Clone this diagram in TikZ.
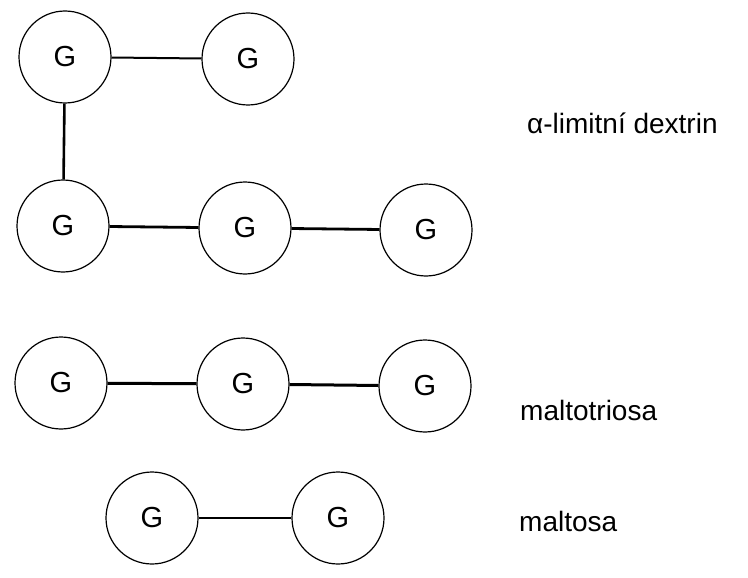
\documentclass[tikz,border=0pt]{standalone}
\usepackage{fontspec}
\setmainfont{Liberation Sans}
\begin{document}
\begin{tikzpicture}[x=1pt,y=-1pt,
	glc/.style={draw,circle,line width=1.2pt,minimum size=92pt,inner sep=0pt,font=\fontsize{29}{29}\selectfont},
	lbl/.style={right,inner sep=0pt,font=\fontsize{28}{28}\selectfont}]
	\useasboundingbox (0,0) rectangle (748,578);
	% alpha-limit dextrin
	\node[glc] (a1) at (65,57) {G};
	\node[glc] (a2) at (248,59) {G};
	\node[glc] (b1) at (63,226) {G};
	\node[glc] (b2) at (245,228) {G};
	\node[glc] (b3) at (426,230) {G};
	\draw[line width=2pt] (a1)--(a2);
	\draw[line width=2.6pt] (a1)--(b1);
	\draw[line width=2.8pt] (b1)--(b2);
	\draw[line width=2.8pt] (b2)--(b3);
	\node[lbl] (dex) at (527,123) {α-limitní dextrin};
	% maltotriosa
	\node[glc] (c1) at (61,383) {G};
	\node[glc] (c2) at (243,384) {G};
	\node[glc] (c3) at (425,386) {G};
	\draw[line width=3pt] (c1)--(c2);
	\draw[line width=3pt] (c2)--(c3);
	\node[lbl] (tri) at (520,410) {maltotriosa};
	% maltosa
	\node[glc] (d1) at (152,518) {G};
	\node[glc] (d2) at (338,518) {G};
	\draw[line width=2pt] (d1)--(d2);
	\node[lbl] (mal) at (519,521) {maltosa};
\end{tikzpicture}
\end{document}
